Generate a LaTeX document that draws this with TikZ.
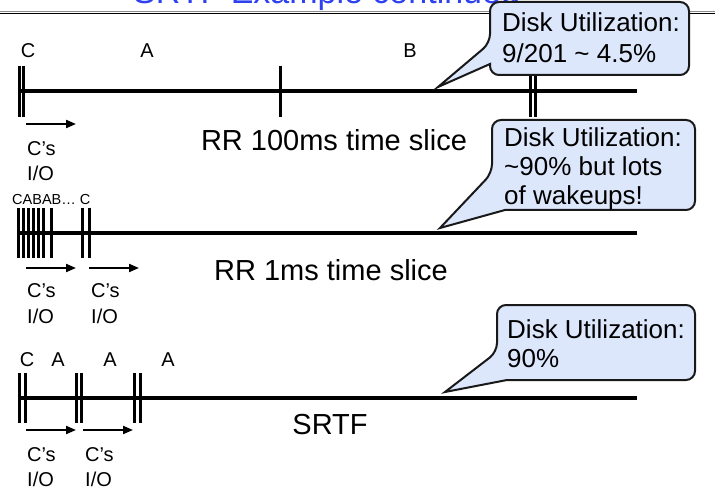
\documentclass[tikz,border=0pt]{standalone}
\usepackage{fontspec}
\setmainfont{Liberation Sans}
\usetikzlibrary{arrows.meta}
\definecolor{calloutfill}{RGB}{221,231,252}
\definecolor{titleblue}{RGB}{45,65,240}
\begin{document}
\begin{tikzpicture}[x=1pt,y=-1pt,
  timeline/.style={line width=4.5pt},
  tick/.style={line width=3pt},
  ioarrow/.style={line width=2pt,-{Triangle[length=10pt,width=8pt]}},
  proc/.style={font=\fontsize{20}{20}\selectfont,anchor=base,inner sep=0pt},
  iotext/.style={font=\fontsize{20}{20}\selectfont,anchor=base west,inner sep=0pt},
  big/.style={font=\fontsize{29}{29}\selectfont,anchor=base,inner sep=0pt},
  callout/.style={fill=calloutfill,draw=black!90,line width=2pt},
  ctext/.style={font=\fontsize{26}{26}\selectfont,anchor=base west,inner sep=0pt}]
\useasboundingbox (0,0) rectangle (715,489);
\clip (0,0) rectangle (715,489);

% slide title (runs off the top edge) and the rule beneath it
\node[anchor=base west,inner sep=0pt,text=titleblue,font=\fontsize{34}{34}\selectfont] (title) at (133,4) {SRTF Example continued};
\draw[black!45,line width=1.3pt] (0,11.2) -- (715,11.2);
\draw[black,line width=1pt] (0,13.4) -- (715,13.4);

% ---------- RR 100ms ----------
\coordinate (a1s) at (20,91); \coordinate (a1e) at (637,91);
\draw[timeline] (a1s) -- (a1e);
\foreach \x in {19,23,280,530,535} \draw[tick] (\x,66) -- (\x,117);
\node[proc] (a1c) at (28,58) {C};
\node[proc] (a1a) at (147,58) {A};
\node[proc] (a1b) at (410,58) {B};
\coordinate (a1io0) at (26,124); \coordinate (a1io1) at (76,124);
\draw[ioarrow] (a1io0) -- (a1io1);
\node[iotext] (a1l1) at (27,156) {C’s};
\node[iotext] (a1l2) at (27,181) {I/O};
\node[big] (a1name) at (334,151) {RR 100ms time slice};

% ---------- RR 1ms ----------
\coordinate (a2s) at (18,233); \coordinate (a2e) at (637,233);
\draw[timeline] (a2s) -- (a2e);
\foreach \x in {18.5,23.5,28.5,33.5,38.5,43.5,51.5,82.5,89} \draw[tick] (\x,208) -- (\x,258);
\node[font=\fontsize{14.5}{14.5}\selectfont,anchor=base west,inner sep=0pt] (a2seq) at (12,205) {CABAB… C};
\coordinate (a2io0) at (26,268); \coordinate (a2io1) at (76,268);
\coordinate (a2io2) at (89,268); \coordinate (a2io3) at (139,268);
\draw[ioarrow] (a2io0) -- (a2io1);
\draw[ioarrow] (a2io2) -- (a2io3);
\node[iotext] (a2l1) at (27,298) {C’s};
\node[iotext] (a2l2) at (27,323) {I/O};
\node[iotext] (a2l3) at (91,298) {C’s};
\node[iotext] (a2l4) at (91,323) {I/O};
\node[big] (a2name) at (331,280) {RR 1ms time slice};

% ---------- SRTF ----------
\coordinate (a3s) at (19,398); \coordinate (a3e) at (637,398);
\draw[timeline] (a3s) -- (a3e);
\foreach \x in {19,25,76,81.5,134,140.5} \draw[tick] (\x,373) -- (\x,423);
\node[proc] (a3c) at (27,366) {C};
\node[proc] (a3a1) at (58,366) {A};
\node[proc] (a3a2) at (110,366) {A};
\node[proc] (a3a3) at (168,366) {A};
\coordinate (a3io0) at (26,430); \coordinate (a3io1) at (76,430);
\coordinate (a3io2) at (83,430); \coordinate (a3io3) at (133,430);
\draw[ioarrow] (a3io0) -- (a3io1);
\draw[ioarrow] (a3io2) -- (a3io3);
\node[iotext] (a3l1) at (27,461) {C’s};
\node[iotext] (a3l2) at (27,486) {I/O};
\node[iotext] (a3l3) at (85,461) {C’s};
\node[iotext] (a3l4) at (85,486) {I/O};
\node[big] (a3name) at (330,434) {SRTF};

% ---------- callouts ----------
\draw[callout] (438,87) -- (490,64) [rounded corners=9pt] -- (490,75) -- (689,75) -- (689,2) -- (490,2) -- (490,43) [sharp corners] -- cycle;
\node[ctext] (u1a) at (502,32) {Disk Utilization:};
\node[ctext] (u1b) at (502,63) {9/201 \textasciitilde{} 4.5\%};

\draw[callout] (440,228) -- (505,210) [rounded corners=9pt] -- (695,210) -- (695,120) -- (492,120) -- (492,173) [sharp corners] -- cycle;
\node[ctext] (u2a) at (504,147) {Disk Utilization:};
\node[ctext] (u2b) at (504,176) {\textasciitilde90\% but lots};
\node[ctext] (u2c) at (504,205) {of wakeups!};

\draw[callout] (445,392) -- (507,380) [rounded corners=9pt] -- (695,380) -- (695,305) -- (497,305) -- (497,352) [sharp corners] -- cycle;
\node[ctext] (u3a) at (507,338) {Disk Utilization:};
\node[ctext] (u3b) at (507,367) {90\%};
\end{tikzpicture}
\end{document}
